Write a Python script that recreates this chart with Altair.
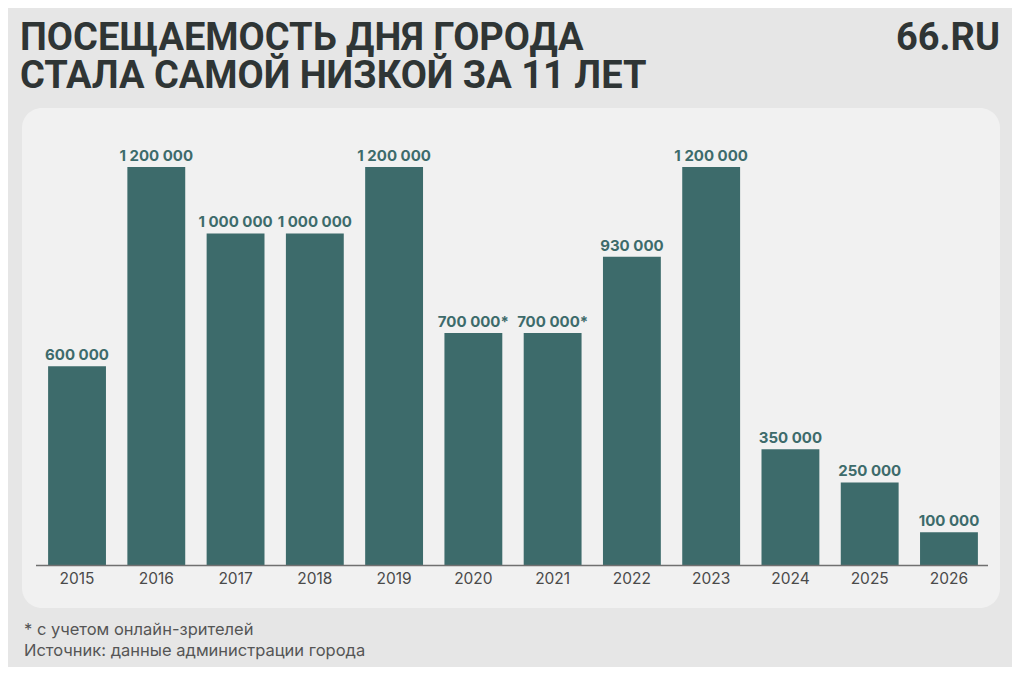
import altair as alt
import pandas as pd

years = ["2015", "2016", "2017", "2018", "2019", "2020", "2021", "2022", "2023", "2024", "2025", "2026"]
visitors = [600000, 1200000, 1000000, 1000000, 1200000, 700000, 700000, 930000, 1200000, 350000, 250000, 100000]
marks = ["", "", "", "", "", "*", "*", "", "", "", "", ""]

title_lines = ["ПОСЕЩАЕМОСТЬ ДНЯ ГОРОДА", "СТАЛА САМОЙ НИЗКОЙ ЗА 11 ЛЕТ"]
brand = "66.RU"
footnotes = ["* с учетом онлайн-зрителей", "Источник: данные администрации города"]

BAR = "#3d6b6b"
TITLE_FONT = "Roboto"
FONT = "Inter, Roboto, sans-serif"

labels = [f"{v:,}".replace(",", " ") + m for v, m in zip(visitors, marks)]
df = pd.DataFrame({"year": years, "value": visitors, "label": labels})

xs = alt.X("year:N", scale=alt.Scale(domain=years, range=[29.4, 980.6],
                                     paddingInner=0.27, paddingOuter=0.135), axis=None)
ys = alt.Y("value:Q", scale=alt.Scale(domain=[0, 1200000], range=[557.5, 159],
                                      nice=False, zero=True), axis=None)

one = pd.DataFrame({"k": [0]})

panel = alt.Chart(one).mark_rect(color="#f1f1f1", cornerRadius=20).encode(
    x=alt.value(14), x2=alt.value(992), y=alt.value(100), y2=alt.value(600))

bars = alt.Chart(df).mark_bar(color=BAR).encode(x=xs, y=ys)

vlabels = alt.Chart(df).mark_text(
    font=FONT, fontSize=15, fontWeight="bold", color=BAR, baseline="alphabetic", dy=-6
).encode(x=xs, y=ys, text="label:N")

baseline = alt.Chart(one).mark_rule(color="#707070", strokeWidth=1.5).encode(
    x=alt.value(28), x2=alt.value(980), y=alt.value(557.5))

ylabels = alt.Chart(df).mark_text(
    font=FONT, fontSize=15.5, color="#4a4a4a", baseline="alphabetic"
).encode(x=xs, y=alt.value(576), text="year:N")

title = alt.Chart(pd.DataFrame({"t": ["\n".join(title_lines)]})).mark_text(
    font=TITLE_FONT, fontSize=38, fontWeight="bold", color="#2f3535",
    align="left", baseline="alphabetic", lineBreak="\n", lineHeight=38
).encode(x=alt.value(12), y=alt.value(42), text="t:N")
logo = alt.Chart(pd.DataFrame({"t": [brand]})).mark_text(
    font=TITLE_FONT, fontSize=38, fontWeight="bold", color="#2f3535",
    align="right", baseline="alphabetic").encode(x=alt.value(992), y=alt.value(42), text="t:N")

foot = alt.Chart(pd.DataFrame({"t": ["\n".join(footnotes)]})).mark_text(
    font=FONT, fontSize=16.5, color="#555555", align="left", baseline="alphabetic",
    lineBreak="\n", lineHeight=21
).encode(x=alt.value(16), y=alt.value(627), text="t:N")

chart = alt.layer(panel, bars, vlabels, baseline, ylabels, title, logo, foot).properties(
    width=1004, height=659, autosize=alt.AutoSizeParams(type="none"), padding=0,
    background="#e6e6e6"
).configure_view(stroke=None)

chart.save("out.html", embed_options={"renderer": "svg", "actions": False})
